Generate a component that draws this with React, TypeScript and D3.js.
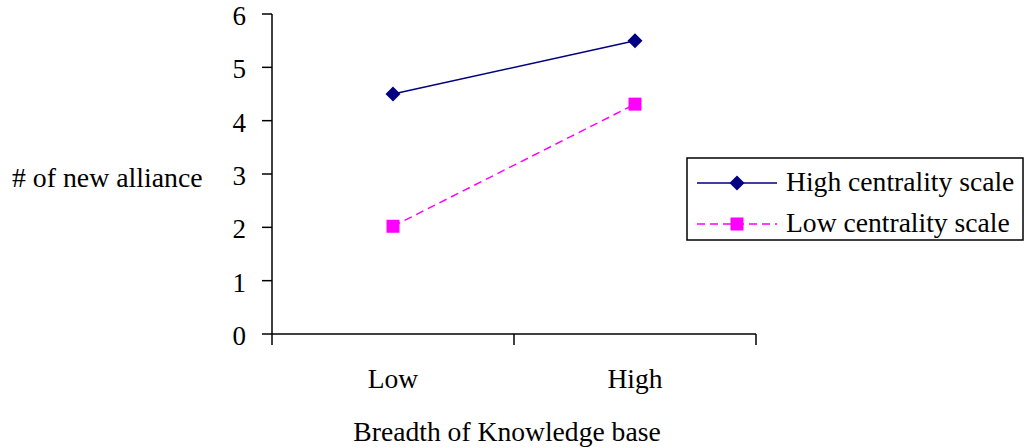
import * as d3 from 'd3';

const categories = ['Low', 'High'];
const highCentrality = [4.5, 5.5];
const lowCentrality = [2.02, 4.31];
const yTicks = [0, 1, 2, 3, 4, 5, 6];

const seriesList = [
  { name: 'High centrality scale', values: highCentrality, color: '#000080', dash: undefined as string | undefined, marker: 'diamond' },
  { name: 'Low centrality scale', values: lowCentrality, color: '#FF00FF', dash: '8,5', marker: 'square' },
];

const W = 1028;
const H = 448;
const FONT = "'Liberation Serif'";

const left = 272;
const right = 756;
const top = 14;
const bottom = 334;

const x = d3.scaleBand().domain(categories).range([left, right]);
const y = d3.scaleLinear().domain([0, 6]).range([bottom, top]);
const cx = (c: string) => (x(c) as number) + x.bandwidth() / 2;

const line = d3.line<number>()
  .x((_, i) => cx(categories[i]))
  .y((d) => y(d));

function Marker({ kind, px, py, color }: { kind: string; px: number; py: number; color: string }) {
  if (kind === 'diamond') {
    const s = 7.5;
    return <path d={`M${px},${py - s}L${px + s},${py}L${px},${py + s}L${px - s},${py}Z`} fill={color} />;
  }
  const s = 6.5;
  return <rect x={px - s} y={py - s} width={2 * s} height={2 * s} fill={color} />;
}

function T(props: { x: number; y: number; size: number; anchor?: string; children: React.ReactNode }) {
  return (
    <text
      x={props.x}
      y={props.y}
      textAnchor={props.anchor ?? 'start'}
      fill="#000"
      style={{ fontFamily: FONT, fontSize: `${props.size}px` }}
    >
      {props.children}
    </text>
  );
}

export default function App() {
  const bounds = [left, ...categories.map((c) => (x(c) as number) + x.bandwidth())];
  return (
    <svg width={W} height={H} style={{ position: 'absolute', left: 0, top: 0, background: '#fff' }}>
      {/* y axis */}
      <line x1={left} x2={left} y1={top} y2={bottom} stroke="#000" strokeWidth={1.5} />
      {yTicks.map((t) => (
        <g key={t}>
          <line x1={left - 10} x2={left} y1={y(t)} y2={y(t)} stroke="#000" strokeWidth={1.5} />
          <T x={246} y={y(t) + 11} size={27} anchor="end">{t}</T>
        </g>
      ))}

      {/* x axis */}
      <line x1={left} x2={right} y1={bottom} y2={bottom} stroke="#000" strokeWidth={1.5} />
      {bounds.map((b) => (
        <line key={b} x1={b} x2={b} y1={bottom} y2={bottom + 11} stroke="#000" strokeWidth={1.5} />
      ))}
      {categories.map((c) => (
        <T key={c} x={cx(c)} y={388} size={27.5} anchor="middle">{c}</T>
      ))}

      {/* axis titles */}
      <T x={12} y={187} size={27.8}># of new alliance</T>
      <T x={507} y={441} size={27.6} anchor="middle">Breadth of Knowledge base</T>

      {/* series */}
      {seriesList.map((s) => (
        <g key={s.name}>
          <path d={line(s.values) ?? ''} fill="none" stroke={s.color} strokeWidth={1.5} strokeDasharray={s.dash} />
          {s.values.map((v, i) => (
            <Marker key={i} kind={s.marker} px={cx(categories[i])} py={y(v)} color={s.color} />
          ))}
        </g>
      ))}

      {/* legend */}
      <rect x={687} y={158} width={336} height={82} fill="#fff" stroke="#000" strokeWidth={1.5} />
      {seriesList.map((s, i) => {
        const ly = 183 + i * 41;
        return (
          <g key={s.name}>
            <line x1={697} x2={777} y1={ly} y2={ly} stroke={s.color} strokeWidth={1.5} strokeDasharray={s.dash} />
            <Marker kind={s.marker} px={737} py={ly} color={s.color} />
            <T x={786} y={ly + 8} size={27.6}>{s.name}</T>
          </g>
        );
      })}
    </svg>
  );
}
